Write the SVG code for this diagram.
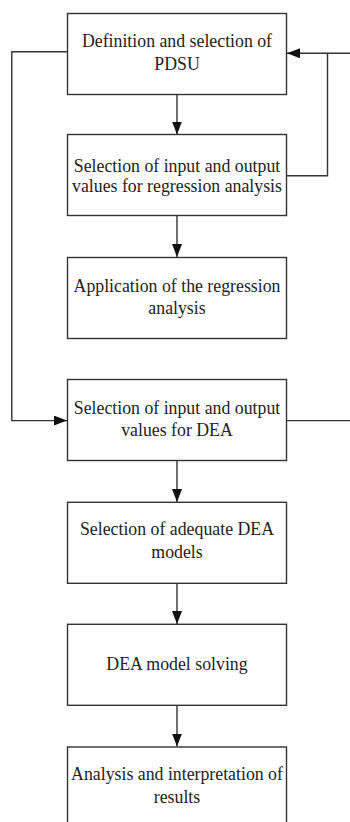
<svg xmlns="http://www.w3.org/2000/svg" width="350" height="822" viewBox="0 0 350 822">
<style>
  .box { fill: #ffffff; stroke: #333333; stroke-width: 1.4; }
  .lbl { font-family: "Liberation Serif", "Times New Roman", serif; font-size: 17.8px; fill: #222222; text-anchor: middle; }
  .con { fill: none; stroke: #333333; stroke-width: 1.4; }
</style>
<defs>
  <marker id="arr" markerUnits="userSpaceOnUse" markerWidth="14" markerHeight="10" refX="13" refY="5" orient="auto">
    <path d="M0,0 L13,5 L0,10 Z" fill="#111111"/>
  </marker>
</defs>
<rect width="350" height="822" fill="#ffffff"/>
<g id="connectors">
  <line class="con" x1="177" y1="94.5" x2="177" y2="134.5" marker-end="url(#arr)"/>
  <line class="con" x1="177" y1="216" x2="177" y2="257" marker-end="url(#arr)"/>
  <line class="con" x1="177" y1="461" x2="177" y2="502" marker-end="url(#arr)"/>
  <line class="con" x1="177" y1="583" x2="177" y2="624" marker-end="url(#arr)"/>
  <line class="con" x1="177" y1="705.5" x2="177" y2="746.5" marker-end="url(#arr)"/>
  <path class="con" d="M67.5,51.8 H11.8 V420.6 H67" marker-end="url(#arr)"/>
  <path class="con" d="M286.5,175.7 H327.5 V53.3"/>
  <path class="con" d="M350,53.3 H287" marker-end="url(#arr)"/>
  <path class="con" d="M286.5,420.6 H350"/>
</g>
<g id="n1">
  <rect class="box" x="67.5" y="13.5" width="219" height="81"/>
  <text class="lbl" x="177" y="46.7">Definition and selection of</text>
  <text class="lbl" x="177" y="70">PDSU</text>
</g>
<g id="n2">
  <rect class="box" x="67.5" y="134.5" width="219" height="81"/>
  <text class="lbl" x="177" y="171.7">Selection of input and output</text>
  <text class="lbl" x="177" y="191.7">values for regression analysis</text>
</g>
<g id="n3">
  <rect class="box" x="67.5" y="257.5" width="219" height="81"/>
  <text class="lbl" x="177" y="291.7">Application of the regression</text>
  <text class="lbl" x="177" y="314">analysis</text>
</g>
<g id="n4">
  <rect class="box" x="67.5" y="379.5" width="219" height="81"/>
  <text class="lbl" x="177" y="414.3">Selection of input and output</text>
  <text class="lbl" x="177" y="435.7">values for DEA</text>
</g>
<g id="n5">
  <rect class="box" x="67.5" y="502.3" width="219" height="81"/>
  <text class="lbl" x="177" y="535">Selection of adequate DEA</text>
  <text class="lbl" x="177" y="558.3">models</text>
</g>
<g id="n6">
  <rect class="box" x="67.5" y="624.3" width="219" height="81"/>
  <text class="lbl" x="177" y="670">DEA model solving</text>
</g>
<g id="n7">
  <rect class="box" x="67.5" y="747" width="219" height="81"/>
  <text class="lbl" x="177" y="780.3">Analysis and interpretation of</text>
  <text class="lbl" x="177" y="802.7">results</text>
</g>
</svg>
